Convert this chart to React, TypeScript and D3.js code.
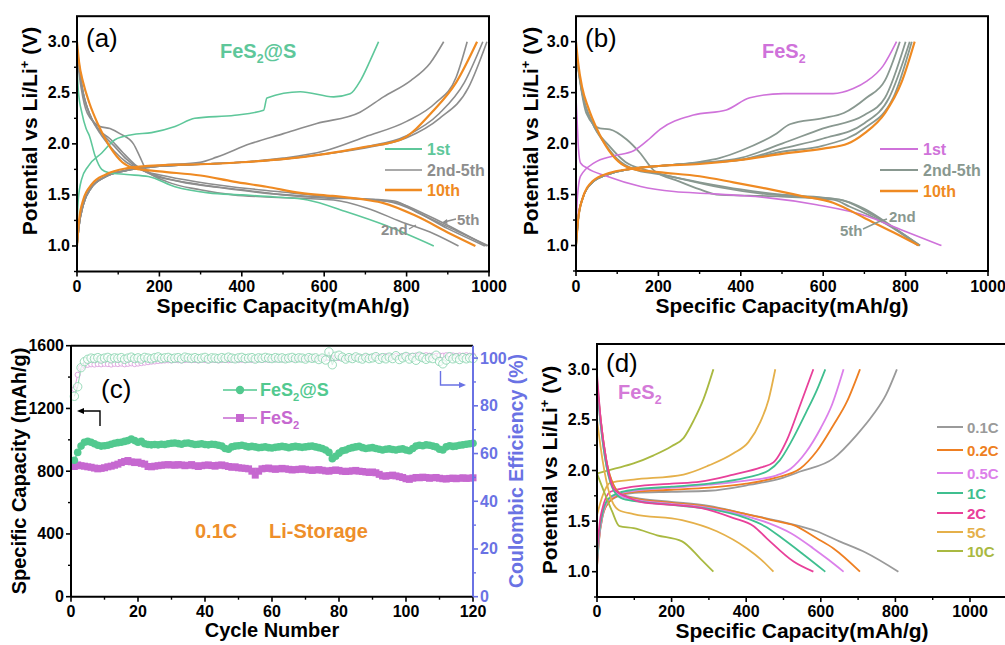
import React from 'react';
import * as d3 from 'd3';

type Pt = [number, number];

// ---------- Panel (a): FeS2@S charge/discharge ----------
const aFirstDis: Pt[] = [[0,2.75],[3,2.53],[12,2.3],[22,2.15],[30,2.08],[44,1.88],[60,1.75],[76,1.72],[120,1.7],[173,1.68],[238,1.58],[319,1.52],[400,1.5],[480,1.48],[560,1.45],[650,1.34],[750,1.2],[866,1.0]];
const aFirstCh: Pt[] = [[0,1.22],[3,1.45],[11,1.65],[27,1.78],[60,1.91],[92,2.04],[133,2.09],[181,2.11],[238,2.17],[286,2.25],[383,2.28],[453,2.33],[461,2.45],[542,2.51],[623,2.46],[663,2.49],[688,2.62],[712,2.82],[732,3.0]];
const aGreyDis: Pt[][] = [
  [[0,2.85],[10,2.55],[25,2.3],[56,2.17],[80,2.15],[104,2.1],[137,2.0],[153,1.87],[169,1.74],[218,1.63],[299,1.55],[380,1.5],[461,1.48],[623,1.45],[704,1.37],[785,1.24],[866,1.12],[926,1.0]],
  [[0,2.9],[10,2.6],[25,2.35],[50,2.15],[80,2.05],[110,1.92],[140,1.8],[170,1.72],[250,1.63],[350,1.57],[450,1.52],[550,1.49],[650,1.47],[750,1.44],[800,1.38],[900,1.17],[990,1.0]],
  [[0,2.9],[12,2.55],[30,2.3],[55,2.13],[90,1.98],[120,1.85],[150,1.76],[200,1.68],[300,1.6],[400,1.55],[500,1.5],[600,1.47],[700,1.46],[770,1.44],[830,1.32],[920,1.15],[1000,1.0]],
  [[0,2.95],[15,2.5],[35,2.25],[60,2.08],[90,1.93],[120,1.82],[160,1.74],[220,1.68],[320,1.61],[420,1.56],[520,1.52],[620,1.48],[720,1.45],[780,1.42],[850,1.3],[930,1.14],[995,1.0]],
];
const aGreyCh: Pt[][] = [
  [[0,1.0],[5,1.2],[15,1.4],[35,1.58],[70,1.68],[120,1.74],[202,1.79],[299,1.82],[339,1.87],[420,2.0],[501,2.1],[582,2.2],[687,2.31],[744,2.46],[810,2.62],[857,2.79],[890,3.0]],
  [[0,1.0],[5,1.2],[15,1.4],[35,1.57],[70,1.68],[120,1.74],[200,1.78],[300,1.8],[400,1.82],[500,1.86],[600,1.93],[700,2.07],[800,2.22],[870,2.4],[920,2.65],[947,3.0]],
  [[0,1.0],[5,1.2],[15,1.4],[35,1.57],[70,1.68],[120,1.74],[200,1.78],[300,1.8],[400,1.82],[500,1.85],[600,1.9],[700,1.97],[800,2.08],[880,2.3],[940,2.6],[985,3.0]],
  [[0,1.0],[5,1.2],[15,1.4],[35,1.57],[70,1.68],[120,1.74],[200,1.78],[300,1.8],[400,1.82],[500,1.85],[600,1.9],[700,1.96],[800,2.06],[880,2.25],[950,2.55],[995,3.0]],
];
const aTenthDis: Pt[] = [[0,3.0],[5,2.8],[15,2.6],[30,2.4],[50,2.2],[80,1.97],[110,1.82],[140,1.76],[200,1.73],[300,1.69],[380,1.63],[460,1.58],[542,1.52],[620,1.49],[704,1.45],[744,1.42],[825,1.29],[906,1.12],[967,1.0]];
const aTenthCh: Pt[] = [[0,1.0],[5,1.25],[15,1.45],[35,1.6],[70,1.7],[120,1.76],[200,1.79],[300,1.8],[400,1.82],[500,1.85],[600,1.9],[700,1.97],[785,2.04],[866,2.33],[920,2.6],[971,3.0]];

// ---------- Panel (b): FeS2 charge/discharge ----------
const bFirstDis: Pt[] = [[0,2.45],[3,2.2],[6,1.95],[11,1.81],[27,1.76],[75,1.68],[157,1.58],[238,1.53],[320,1.51],[400,1.49],[462,1.47],[584,1.4],[705,1.29],[786,1.16],[887,1.0]];
const bFirstCh: Pt[] = [[0,1.1],[3,1.45],[11,1.68],[44,1.81],[92,1.88],[140,1.93],[179,2.05],[204,2.14],[285,2.28],[365,2.33],[422,2.45],[503,2.49],[624,2.49],[673,2.54],[705,2.61],[745,2.76],[778,3.0]];
const bGreyDis: Pt[][] = [
  [[0,2.9],[10,2.6],[25,2.3],[58,2.15],[82,2.14],[123,2.04],[155,1.91],[188,1.74],[250,1.63],[301,1.55],[341,1.5],[420,1.49],[500,1.48],[624,1.45],[665,1.38],[720,1.28],[770,1.17],[830,1.0]],
  [[0,2.9],[15,2.5],[40,2.2],[70,2.0],[100,1.85],[140,1.75],[200,1.7],[300,1.62],[400,1.55],[500,1.5],[600,1.47],[650,1.44],[720,1.3],[780,1.15],[835,1.0]],
  [[0,2.9],[15,2.5],[40,2.2],[80,1.98],[120,1.82],[170,1.74],[250,1.66],[350,1.57],[450,1.51],[550,1.48],[640,1.45],[700,1.36],[770,1.18],[835,1.0]],
];
const bGreyCh: Pt[][] = [
  [[0,1.0],[5,1.25],[15,1.45],[40,1.62],[80,1.7],[130,1.75],[200,1.78],[300,1.82],[350,1.86],[400,1.93],[487,2.1],[519,2.19],[600,2.25],[650,2.3],[705,2.45],[750,2.62],[786,3.0]],
  [[0,1.0],[5,1.25],[15,1.45],[40,1.62],[80,1.7],[130,1.75],[200,1.78],[300,1.81],[400,1.86],[500,2.0],[600,2.15],[700,2.28],[750,2.45],[800,3.0]],
  [[0,1.0],[5,1.25],[15,1.45],[40,1.62],[80,1.7],[130,1.75],[200,1.78],[300,1.81],[400,1.84],[500,1.95],[600,2.05],[700,2.2],[760,2.45],[810,3.0]],
  [[0,1.0],[5,1.25],[15,1.45],[40,1.62],[80,1.7],[130,1.75],[200,1.78],[300,1.81],[400,1.84],[500,1.92],[600,1.98],[700,2.15],[770,2.45],[815,3.0]],
];
const bTenthDis: Pt[] = [[0,3.0],[5,2.8],[15,2.55],[30,2.35],[50,2.15],[80,1.93],[110,1.8],[140,1.75],[200,1.72],[300,1.68],[382,1.62],[460,1.56],[543,1.49],[624,1.42],[705,1.26],[770,1.13],[832,1.0]];
const bTenthCh: Pt[] = [[0,1.0],[5,1.25],[15,1.45],[40,1.63],[80,1.71],[130,1.75],[200,1.78],[300,1.8],[400,1.84],[500,1.9],[600,1.95],[660,2.0],[700,2.1],[750,2.3],[790,2.6],[822,3.0]];

// ---------- Panel (c): cycling ----------
const capFeS2S: number[] = [
  870, 920, 960, 985, 990, 985, 975, 965, 960, 962,
  965, 972, 978, 982, 985, 990, 995, 1005, 995, 985,
  990, 975, 970, 968, 970, 968, 972, 970, 975, 978,
  980, 976, 972, 978, 980, 975, 970, 972, 975, 970,
  968, 972, 970, 965, 960, 945, 940, 955, 960, 962,
  965, 960, 955, 958, 955, 950, 952, 955, 950, 948,
  952, 955, 958, 955, 950, 955, 958, 955, 952, 955,
  958, 960, 955, 950, 945, 935, 920, 880, 895, 915,
  930, 935, 945, 950, 955, 958, 950, 945, 948, 950,
  945, 940, 935, 940, 942, 938, 935, 940, 942, 935,
  930, 945, 960, 965, 962, 968, 965, 960, 955, 940,
  935, 955, 962, 958, 960, 965, 968, 972, 975, 978,
];
const capFeS2: number[] = [
  830, 840, 835, 832, 828, 825, 820, 815, 818, 822,
  828, 832, 838, 845, 855, 862, 868, 860, 855, 858,
  850, 845, 830, 828, 832, 835, 838, 840, 842, 840,
  838, 842, 840, 835, 838, 842, 835, 830, 835, 838,
  840, 836, 832, 838, 840, 835, 830, 825, 828, 822,
  820, 818, 815, 800, 775, 800, 815, 818, 820, 815,
  812, 815, 818, 815, 812, 808, 810, 812, 815, 812,
  808, 805, 808, 810, 806, 802, 800, 805, 808, 805,
  800, 798, 800, 802, 805, 800, 798, 795, 792, 795,
  790, 780, 770, 768, 772, 775, 770, 765, 760, 752,
  748, 755, 760, 758, 762, 760, 755, 758, 760, 755,
  752, 750, 754, 756, 752, 755, 758, 754, 756, 758,
];
const ceFeS2S: number[] = [
  84, 88, 96, 98.5, 99.5, 100, 99.8, 100.2, 99.6, 100,
  100.3, 99.7, 100.1, 99.9, 100.2, 99.5, 100, 100.4, 99.8, 100.1,
  99.6, 100.3, 100, 99.7, 100.2, 100.5, 99.9, 100.1, 100.3, 99.8,
  100, 100.2, 99.7, 100.4, 100.1, 99.9, 100.2, 99.8, 100, 100.3,
  99.6, 100.1, 100, 99.8, 100.2, 99.9, 100.4, 100, 99.7, 100.1,
  100.3, 99.8, 100, 100.2, 99.6, 100.1, 99.9, 100.3, 100, 99.8,
  100.2, 99.9, 100.1, 99.7, 100, 100.3, 99.8, 100.1, 100, 99.6,
  100.2, 99.9, 100.1, 99.4, 100, 99.2, 102.6, 97.2, 100.8, 101.2,
  100.4, 99.6, 100.2, 99.8, 100.5, 100, 99.6, 100.3, 99.8, 100.1,
  100.6, 99.5, 100.2, 99.7, 100.4, 99.8, 101, 99.4, 100.1, 100.7,
  99.6, 100.3, 99.1, 100.8, 100.2, 99.5, 100.1, 99.8, 101.2, 98.6,
  97.6, 99.2, 100.6, 99.7, 100.1, 99.4, 100.2, 99.7, 100.1, 99.8,
];
const ceFeS2: number[] = [
  87, 93, 96, 97, 97.2, 97.4, 97.3, 97.5, 97.4, 97.6,
  97.5, 97.3, 97.6, 97.5, 97.7, 97.4, 97.6, 97.8, 97.5, 97.7,
  97.9, 98.1, 98.3, 98.5, 98.6, 98.8, 98.9, 99, 99.1, 99,
  99.2, 99.1, 99, 99.2, 99.3, 99.1, 99.2, 99, 99.3, 99.2,
  99.1, 99.3, 99.2, 99, 99.2, 99.3, 99.1, 99.2, 99.4, 99.2,
  99.3, 99.1, 99.4, 99.2, 99.3, 99.5, 99.2, 99.4, 99.3, 99.5,
  99.4, 99.6, 99.4, 99.5, 99.7, 99.5, 99.6, 99.8, 99.6, 99.7,
  99.9, 99.7, 99.8, 100, 99.8, 100, 100.1, 99.9, 100.2, 100,
  100.2, 100.3, 100.1, 100.4, 100.2, 100.5, 100.3, 100.6, 100.4, 100.5,
  100.7, 100.5, 100.6, 100.8, 100.6, 100.7, 100.9, 100.7, 100.8, 101,
  100.8, 100.9, 101.1, 100.9, 101, 101.2, 101, 101.1, 100.9, 101.1,
  101, 101.2, 101, 101.1, 100.9, 101.1, 101, 101.2, 101, 101.1,
];

// ---------- Panel (d): FeS2 rate curves ----------
const dRates: string[] = ['0.1C', '0.2C', '0.5C', '1C', '2C', '5C', '10C'];
const dCh: Pt[][] = [
  [[0,1.05],[5,1.3],[15,1.55],[30,1.68],[60,1.75],[100,1.78],[200,1.79],[300,1.8],[411,1.86],[500,1.93],[545,1.99],[634,2.12],[696,2.35],[740,2.55],[775,2.75],[804,3.0]],
  [[0,1.05],[5,1.3],[15,1.55],[30,1.68],[60,1.76],[100,1.79],[200,1.81],[300,1.83],[400,1.87],[480,1.93],[545,2.02],[589,2.19],[634,2.45],[670,2.68],[705,3.0]],
  [[0,1.08],[5,1.32],[15,1.56],[30,1.7],[60,1.77],[100,1.8],[200,1.83],[300,1.86],[400,1.9],[480,1.95],[520,2.02],[560,2.18],[600,2.42],[630,2.65],[661,3.0]],
  [[0,1.1],[5,1.35],[15,1.58],[30,1.72],[60,1.78],[100,1.81],[200,1.84],[300,1.87],[400,1.93],[460,2.0],[490,2.1],[520,2.28],[560,2.57],[590,2.8],[612,3.0]],
  [[0,1.2],[10,1.55],[36,1.79],[98,1.84],[200,1.87],[277,1.89],[366,1.96],[440,2.03],[473,2.08],[509,2.3],[545,2.65],[580,3.0]],
  [[0,1.56],[15,1.75],[36,1.88],[98,1.91],[232,1.96],[300,2.05],[366,2.17],[406,2.28],[438,2.48],[460,2.7],[478,3.0]],
  [[0,1.97],[50,2.02],[98,2.07],[152,2.15],[200,2.24],[232,2.32],[260,2.5],[286,2.71],[312,3.0]],
];
const dDis: Pt[][] = [
  [[0,2.9],[10,2.5],[25,2.1],[45,1.85],[70,1.76],[120,1.72],[200,1.69],[300,1.65],[400,1.57],[500,1.49],[589,1.4],[650,1.3],[720,1.19],[808,1.0]],
  [[0,2.85],[10,2.5],[25,2.1],[45,1.85],[70,1.75],[120,1.71],[200,1.68],[300,1.64],[400,1.57],[480,1.5],[527,1.46],[589,1.33],[634,1.23],[705,1.0]],
  [[0,2.85],[10,2.45],[25,2.05],[45,1.82],[70,1.74],[120,1.7],[200,1.67],[300,1.63],[400,1.55],[460,1.48],[520,1.38],[580,1.23],[620,1.12],[661,1.0]],
  [[0,2.85],[10,2.45],[25,2.05],[45,1.8],[70,1.72],[120,1.69],[200,1.66],[300,1.62],[400,1.53],[450,1.45],[500,1.32],[550,1.18],[612,1.0]],
  [[0,2.95],[10,2.5],[25,2.1],[45,1.82],[80,1.74],[116,1.69],[200,1.66],[277,1.63],[366,1.53],[420,1.45],[455,1.33],[527,1.1],[580,1.0]],
  [[0,2.5],[15,2.1],[35,1.75],[58,1.61],[98,1.57],[228,1.51],[321,1.4],[402,1.23],[440,1.12],[473,1.0]],
  [[0,1.97],[20,1.78],[40,1.6],[60,1.45],[98,1.43],[161,1.36],[228,1.3],[277,1.13],[312,1.0]],
];

// tick labels
const vXTicks = [0, 200, 400, 600, 800, 1000];
const vYTicks = [1.0, 1.5, 2.0, 2.5, 3.0];
const cXTicks = [0, 20, 40, 60, 80, 100, 120];
const cYTicks = [0, 400, 800, 1200, 1600];
const cY2Ticks = [0, 20, 40, 60, 80, 100];

// colours
const GREEN = '#5ec79a';
const ORANGE = '#ef8a22';
const GREY = '#8d8d8d';
const GREY_B = '#899890';
const PURPLE = '#cf72da';
const BLUE = '#6a72e4';
const dColors = ['#9a9a9a', '#ee7f22', '#dc80ea', '#3fbf8f', '#e8409a', '#e5b04a', '#a9b941'];

const FONT = 'Arial, "Liberation Sans", Helvetica, sans-serif';

type Scale = d3.ScaleLinear<number, number>;

function Frame({ x0, x1, y0, y1 }: { x0: number; x1: number; y0: number; y1: number }) {
  return <rect x={x0} y={y0} width={x1 - x0} height={y1 - y0} fill="none" stroke="#000" strokeWidth={2} />;
}

function BottomAxis({ x, yPix, ticks, labelY, minor }: { x: Scale; yPix: number; ticks: number[]; labelY: number; minor: number[] }) {
  return (
    <g>
      {ticks.map((t) => (
        <line key={'M' + t} x1={x(t)} x2={x(t)} y1={yPix} y2={yPix + 5} stroke="#000" strokeWidth={1.6} />
      ))}
      {minor.map((t) => (
        <line key={'m' + t} x1={x(t)} x2={x(t)} y1={yPix} y2={yPix + 3} stroke="#000" strokeWidth={1.4} />
      ))}
      {ticks.map((t) => (
        <text key={'l' + t} x={x(t)} y={labelY} textAnchor="middle" fontSize={16} fontWeight="bold" fontFamily={FONT}>
          {t}
        </text>
      ))}
    </g>
  );
}

function LeftAxis({ y, xPix, ticks, minor, fmt, color = '#000', side = -1 }: { y: Scale; xPix: number; ticks: number[]; minor: number[]; fmt: (v: number) => string; color?: string; side?: number }) {
  return (
    <g>
      {ticks.map((t) => (
        <line key={'M' + t} x1={xPix} x2={xPix + side * 5} y1={y(t)} y2={y(t)} stroke={color} strokeWidth={1.6} />
      ))}
      {minor.map((t) => (
        <line key={'m' + t} x1={xPix} x2={xPix + side * 3} y1={y(t)} y2={y(t)} stroke={color} strokeWidth={1.4} />
      ))}
      {ticks.map((t) => (
        <text key={'l' + t} x={xPix + side * 7} y={y(t) + 5.5} textAnchor={side < 0 ? 'end' : 'start'} fontSize={16} fontWeight="bold" fontFamily={FONT} fill={color}>
          {fmt(t)}
        </text>
      ))}
    </g>
  );
}

function VTitle({ x, y }: { x: number; y: number }) {
  return (
    <text transform={`translate(${x},${y}) rotate(-90)`} textAnchor="middle" fontSize={21} fontWeight="bold" fontFamily={FONT}>
      Potential vs Li/Li<tspan dy={-8} fontSize={13}>+</tspan>
      <tspan dy={8}> (V)</tspan>
    </text>
  );
}

function Fes2Text({ x, y, color, suffix, size }: { x: number; y: number; color: string; suffix?: string; size: number }) {
  return (
    <text x={x} y={y} fontSize={size} fontWeight="bold" fontFamily={FONT} fill={color}>
      FeS<tspan dy={5} fontSize={size * 0.62}>2</tspan>
      {suffix ? <tspan dy={-5}>{suffix}</tspan> : null}
    </text>
  );
}

const mid = (arr: number[]) => arr.slice(0, -1).map((v, i) => (v + arr[i + 1]) / 2);

export default function App() {
  const line = (x: Scale, y: Scale) =>
    d3.line<Pt>().x((d) => x(d[0])).y((d) => y(d[1])).curve(d3.curveMonotoneX);

  // Panel a
  const xa = d3.scaleLinear().domain([0, 1000]).range([77, 489]);
  const ya = d3.scaleLinear().domain([0.75, 3.25]).range([271.5, 16.2]);
  const la = line(xa, ya);
  // Panel b
  const xb = d3.scaleLinear().domain([0, 1000]).range([576, 988]);
  const yb = d3.scaleLinear().domain([0.75, 3.25]).range([271, 16.2]);
  const lb = line(xb, yb);
  // Panel c
  const xc = d3.scaleLinear().domain([0, 120]).range([71, 473]);
  const yc = d3.scaleLinear().domain([0, 1600]).range([596.7, 345.7]);
  const yc2 = d3.scaleLinear().domain([0, 105.2]).range([596.7, 345.7]);
  // Panel d
  const xd = d3.scaleLinear().domain([0, 1000]).range([597, 970]);
  const yd = d3.scaleLinear().domain([0.75, 3.25]).range([597, 344]);
  const ld = line(xd, yd);

  const vMinorX = [100, 300, 500, 700, 900];
  const vMinorY = [0.75, 1.25, 1.75, 2.25, 2.75];
  const f1 = (v: number) => v.toFixed(1);

  const capLine = (arr: number[]) =>
    d3.line<number>().x((_, i) => xc(i + 1)).y((d) => yc(d))(arr) || '';
  const ceLine = (arr: number[]) =>
    d3.line<number>().x((_, i) => xc(i + 1)).y((d) => yc2(d))(arr) || '';

  return (
    <svg width={1005} height={645} style={{ position: 'absolute', left: 0, top: 0, background: '#fff' }} fontFamily={FONT}>
      <rect x={0} y={0} width={1005} height={645} fill="#fff" />

      {/* ================= Panel (a) ================= */}
      <g>
        {aGreyDis.map((d, i) => (
          <path key={'agd' + i} d={la(d) || ''} fill="none" stroke={GREY} strokeWidth={1.6} />
        ))}
        {aGreyCh.map((d, i) => (
          <path key={'agc' + i} d={la(d) || ''} fill="none" stroke={GREY} strokeWidth={1.6} />
        ))}
        <path d={la(aFirstDis) || ''} fill="none" stroke={GREEN} strokeWidth={1.6} />
        <path d={la(aFirstCh) || ''} fill="none" stroke={GREEN} strokeWidth={1.6} />
        <path d={la(aTenthDis) || ''} fill="none" stroke={ORANGE} strokeWidth={2.2} />
        <path d={la(aTenthCh) || ''} fill="none" stroke={ORANGE} strokeWidth={2.2} />
        <Frame x0={77} x1={489} y0={16.2} y1={271.5} />
        <BottomAxis x={xa} yPix={271.5} ticks={vXTicks} labelY={292} minor={vMinorX} />
        <LeftAxis y={ya} xPix={77} ticks={vYTicks} minor={vMinorY} fmt={f1} />
        <VTitle x={37} y={131} />
        <text x={283} y={313} textAnchor="middle" fontSize={21} fontWeight="bold">Specific Capacity(mAh/g)</text>
        <text x={86} y={47} fontSize={26}>(a)</text>
        <Fes2Text x={220} y={58} color={GREEN} suffix="@S" size={20} />
        {/* legend */}
        <line x1={385} x2={422} y1={149} y2={149} stroke={GREEN} strokeWidth={2} />
        <line x1={385} x2={422} y1={170} y2={170} stroke={GREY} strokeWidth={1.6} />
        <line x1={385} x2={422} y1={190} y2={190} stroke={ORANGE} strokeWidth={2.4} />
        <text x={427} y={155} fontSize={16} fontWeight="bold" fill={GREEN}>1st</text>
        <text x={427} y={176} fontSize={16} fontWeight="bold" fill={GREY}>2nd-5th</text>
        <text x={427} y={196} fontSize={16} fontWeight="bold" fill={ORANGE}>10th</text>
        <text x={457} y={225} fontSize={15} fontWeight="bold" fill={GREY}>5th</text>
        <path d="M456,219 L444,222" stroke={GREY} strokeWidth={1.4} />
        <path d="M442,222.5 L447,219 L447.5,224 Z" fill={GREY} />
        <text x={381} y={235} fontSize={15} fontWeight="bold" fill={GREY}>2nd</text>
        <path d="M409,229 L416,225" stroke={GREY} strokeWidth={1.2} />
      </g>

      {/* ================= Panel (b) ================= */}
      <g>
        {bGreyDis.map((d, i) => (
          <path key={'bgd' + i} d={lb(d) || ''} fill="none" stroke={GREY_B} strokeWidth={1.8} />
        ))}
        {bGreyCh.map((d, i) => (
          <path key={'bgc' + i} d={lb(d) || ''} fill="none" stroke={GREY_B} strokeWidth={1.8} />
        ))}
        <path d={lb(bFirstDis) || ''} fill="none" stroke={PURPLE} strokeWidth={1.6} />
        <path d={lb(bFirstCh) || ''} fill="none" stroke={PURPLE} strokeWidth={1.6} />
        <path d={lb(bTenthDis) || ''} fill="none" stroke={ORANGE} strokeWidth={2.2} />
        <path d={lb(bTenthCh) || ''} fill="none" stroke={ORANGE} strokeWidth={2.2} />
        <Frame x0={576} x1={988} y0={16.2} y1={271} />
        <BottomAxis x={xb} yPix={271} ticks={vXTicks} labelY={292} minor={vMinorX} />
        <LeftAxis y={yb} xPix={576} ticks={vYTicks} minor={vMinorY} fmt={f1} />
        <VTitle x={538} y={131} />
        <text x={782} y={313} textAnchor="middle" fontSize={21} fontWeight="bold">Specific Capacity(mAh/g)</text>
        <text x={585} y={47} fontSize={26}>(b)</text>
        <Fes2Text x={762} y={58} color={PURPLE} size={20} />
        <line x1={880} x2={918} y1={149} y2={149} stroke={PURPLE} strokeWidth={2} />
        <line x1={880} x2={918} y1={170} y2={170} stroke={GREY_B} strokeWidth={2} />
        <line x1={880} x2={918} y1={191} y2={191} stroke={ORANGE} strokeWidth={2.4} />
        <text x={923} y={155} fontSize={16} fontWeight="bold" fill={PURPLE}>1st</text>
        <text x={923} y={176} fontSize={16} fontWeight="bold" fill={GREY_B}>2nd-5th</text>
        <text x={923} y={197} fontSize={16} fontWeight="bold" fill={ORANGE}>10th</text>
        <text x={889} y={222} fontSize={15} fontWeight="bold" fill={GREY_B}>2nd</text>
        <text x={840} y={236} fontSize={15} fontWeight="bold" fill={GREY_B}>5th</text>
        <path d="M863,229 L878,222 L887,219" stroke={GREY_B} strokeWidth={1.4} fill="none" />
      </g>

      {/* ================= Panel (c) ================= */}
      <g>
        {/* CE */}
        <path d={ceLine(ceFeS2)} fill="none" stroke="#e3a8e3" strokeWidth={1} />
        {ceFeS2.map((v, i) => (
          <circle key={'cep' + i} cx={xc(i + 1)} cy={yc2(v)} r={2.6} fill="#fff" stroke="#dca0de" strokeWidth={0.9} />
        ))}
        <path d={ceLine(ceFeS2S)} fill="none" stroke="#8fd6b2" strokeWidth={1} />
        {ceFeS2S.map((v, i) => (
          <circle key={'ceg' + i} cx={xc(i + 1)} cy={yc2(v)} r={4.2} fill="#fff" fillOpacity={0.6} stroke="#8fd6b2" strokeWidth={0.9} />
        ))}
        {/* capacity */}
        <path d={capLine(capFeS2)} fill="none" stroke="#c668d0" strokeWidth={1.2} />
        {capFeS2.map((v, i) => (
          <rect key={'cp' + i} x={xc(i + 1) - 3.5} y={yc(v) - 3.5} width={7} height={7} fill="#c668d0" />
        ))}
        <path d={capLine(capFeS2S)} fill="none" stroke="#52c98f" strokeWidth={1.2} />
        {capFeS2S.map((v, i) => (
          <circle key={'cg' + i} cx={xc(i + 1)} cy={yc(v)} r={3.8} fill="#52c98f" />
        ))}
        {/* frame */}
        <line x1={71} x2={473} y1={345.7} y2={345.7} stroke="#000" strokeWidth={2} />
        <line x1={71} x2={473} y1={596.7} y2={596.7} stroke="#000" strokeWidth={2} />
        <line x1={71} x2={71} y1={345.7} y2={596.7} stroke="#000" strokeWidth={2} />
        <line x1={473} x2={473} y1={345.7} y2={596.7} stroke={BLUE} strokeWidth={2} />
        <BottomAxis x={xc} yPix={596.7} ticks={cXTicks} labelY={617} minor={mid(cXTicks)} />
        <LeftAxis y={yc} xPix={71} ticks={cYTicks} minor={mid(cYTicks)} fmt={(v) => String(v)} />
        <LeftAxis y={yc2} xPix={473} ticks={cY2Ticks} minor={mid(cY2Ticks)} fmt={(v) => String(v)} color={BLUE} side={1} />
        <text transform="translate(26,471) rotate(-90)" textAnchor="middle" fontSize={20} fontWeight="bold">Specific Capacity (mAh/g)</text>
        <text transform="translate(523,471) rotate(-90)" textAnchor="middle" fontSize={19.5} fontWeight="bold" fill={BLUE}>Coulombic Efficiency (%)</text>
        <text x={272} y={637} textAnchor="middle" fontSize={20} fontWeight="bold">Cycle Number</text>
        <text x={101} y={398} fontSize={26}>(c)</text>
        {/* legend */}
        <line x1={223} x2={257} y1={390} y2={390} stroke="#52c98f" strokeWidth={1.4} />
        <circle cx={240} cy={390} r={4.2} fill="#52c98f" />
        <Fes2Text x={260} y={396} color="#52c98f" suffix="@S" size={18} />
        <line x1={223} x2={257} y1={418} y2={418} stroke="#c668d0" strokeWidth={1.4} />
        <rect x={236} y={414} width={8} height={8} fill="#c668d0" />
        <Fes2Text x={260} y={424} color="#c668d0" size={18} />
        <text x={195} y={538} fontSize={20} fontWeight="bold" fill="#ee8f2a">0.1C</text>
        <text x={269} y={538} fontSize={20} fontWeight="bold" fill="#ee8f2a">Li-Storage</text>
        {/* arrows */}
        <path d="M100,426 L100,411 L82,411" fill="none" stroke="#000" strokeWidth={1.4} />
        <path d="M77,411 L84,408 L84,414 Z" fill="#000" />
        <path d="M440.5,371 L440.5,385 L460,385" fill="none" stroke={BLUE} strokeWidth={1.4} />
        <path d="M466,385 L459,382 L459,388 Z" fill={BLUE} />
      </g>

      {/* ================= Panel (d) ================= */}
      <g>
        {dCh.map((d, i) => (
          <path key={'dc' + i} d={ld(d) || ''} fill="none" stroke={dColors[i]} strokeWidth={1.8} />
        ))}
        {dDis.map((d, i) => (
          <path key={'dd' + i} d={ld(d) || ''} fill="none" stroke={dColors[i]} strokeWidth={1.8} />
        ))}
        <rect x={597} y={344} width={430} height={253} fill="none" stroke="#000" strokeWidth={2} />
        <BottomAxis x={xd} yPix={597} ticks={vXTicks} labelY={617} minor={vMinorX} />
        <LeftAxis y={yd} xPix={597} ticks={vYTicks} minor={vMinorY} fmt={f1} />
        <VTitle x={557} y={470} />
        <text x={802} y={638} textAnchor="middle" fontSize={21} fontWeight="bold">Specific Capacity(mAh/g)</text>
        <text x={606} y={372} fontSize={26}>(d)</text>
        <Fes2Text x={618} y={399} color="#d47ad8" size={20} />
        {dRates.map((r, i) => {
          const ys = [427, 450, 473, 493, 513, 532, 551][i];
          return (
            <g key={'lg' + r}>
              <line x1={937} x2={963} y1={ys} y2={ys} stroke={dColors[i]} strokeWidth={2} />
              <text x={967} y={ys + 5.5} fontSize={15} fontWeight="bold" fill={dColors[i]}>{r}</text>
            </g>
          );
        })}
      </g>
    </svg>
  );
}
